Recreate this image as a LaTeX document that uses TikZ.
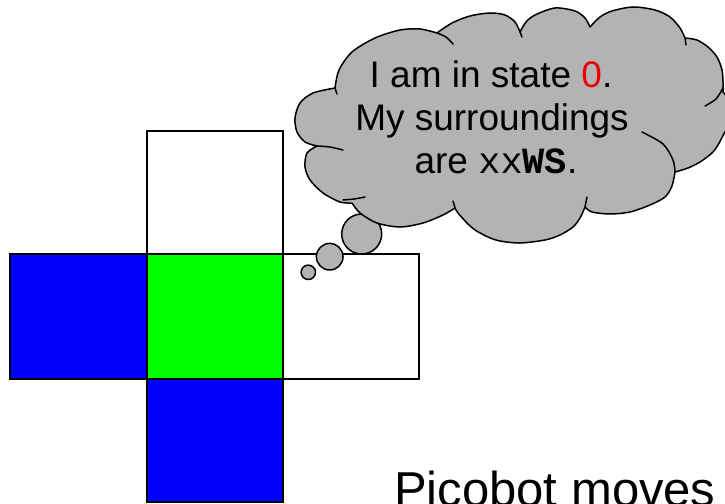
\documentclass[tikz,border=0pt]{standalone}
\usepackage{fontspec}
\setmainfont{Liberation Sans}
\setmonofont{Liberation Mono}
\definecolor{cloudgray}{RGB}{179,179,179}
\definecolor{pblue}{RGB}{0,0,255}
\definecolor{pgreen}{RGB}{0,255,0}
\definecolor{pred}{RGB}{235,0,0}
\tikzset{
  cell/.style={draw=black,line width=1.3pt},
  cloudline/.style={draw=black,line width=1.5pt,line join=round,line cap=round},
  bubble/.style={cloudline,fill=cloudgray},
  tailline/.style={draw=black,line width=1.5pt,line cap=round},
  txt/.style={inner sep=0pt,anchor=base,font=\fontsize{37}{44}\selectfont},
  bigtxt/.style={inner sep=0pt,anchor=base west,font=\fontsize{49}{58}\selectfont}
}
\begin{document}
\begin{tikzpicture}[x=1pt,y=-1pt]
\useasboundingbox (0,0) rectangle (725,503);
\fill[white] (0,0) rectangle (725,503);
\clip (0,0) rectangle (725,503);
% grid cells
\draw[cell,fill=white]  (147,131) rectangle (283,254);
\draw[cell,fill=pblue]  (10,254)  rectangle (147,379);
\draw[cell,fill=pgreen] (147,254) rectangle (283,379);
\draw[cell,fill=white]  (283,254) rectangle (419,379);
\draw[cell,fill=pblue]  (147,379) rectangle (283,502);
% thought bubbles
\draw[bubble] (361.7,234) circle[radius=20];
\draw[bubble] (329.7,256.7) circle[radius=13.3];
\draw[bubble] (308.3,272.3) circle[radius=7.2];
% cloud
\path[bubble]
  plot[smooth] coordinates {(335,88)(339,70)(352,52)(375,38)(400,30)(420,29)(437,33)}
  -- plot[smooth] coordinates {(437,33)(452,23)(470,16)(490,13)(505,15)(515,22)(520,32)}
  -- plot[smooth] coordinates {(520,32)(526,22)(535,15)(555,8)(575,11)(585,18)(590,27)}
  -- plot[smooth] coordinates {(590,27)(600,17)(612,11)(633,7)(655,10)(670,17)(680,28)(685,38)}
  -- plot[smooth] coordinates {(685,38)(697,40)(708,47)(717,57)(722,70)(723,82)(723,92)}
  -- plot[smooth] coordinates {(723,92)(729,100)(733,112)(731,124)(725,132)(718,145)(712,153)(700,162)(688,168)(675,172)}
  -- plot[smooth] coordinates {(675,172)(672,186)(665,197)(650,205)(630,212)(610,214)(592,212)(585,207)}
  -- plot[smooth] coordinates {(585,207)(580,218)(573,227)(560,235)(545,240)(520,243)(500,241)(488,237)(475,230)(467,223)(458,213)(455,208)}
  -- plot[smooth] coordinates {(455,208)(443,215)(423,223)(400,227)(377,223)(360,213)(352,203)}
  -- plot[smooth] coordinates {(352,203)(340,202)(323,193)(310,180)(305,167)(307,153)(317,146)}
  -- plot[smooth] coordinates {(317,146)(305,142)(297,132)(295,118)(300,103)(313,93)(335,88)}
  -- cycle;
% inner arcs of the cloud
\draw[tailline] plot[smooth] coordinates {(437,33)(446,37)(453,44)};
\draw[tailline] plot[smooth] coordinates {(520,32)(522,37)};
\draw[tailline] plot[smooth] coordinates {(685,38)(686,45)};
\draw[tailline] plot[smooth] coordinates {(723,88)(716,99)(705,106)};
\draw[tailline] plot[smooth] coordinates {(675,172)(673,160)(663,144)(642,132)};
\draw[tailline] plot[smooth] coordinates {(585,207)(587,197)};
\draw[tailline] plot[smooth] coordinates {(455,208)(453,201)};
\draw[tailline] plot[smooth] coordinates {(343,200)(354,199)(365,197)};
\draw[tailline] plot[smooth] coordinates {(317,146)(330,147)(343,150)};
\draw[tailline] plot[smooth] coordinates {(335,88)(337,94)};
% texts
\node[txt] (l1) at (491,88) {I am in state \textcolor{pred}{0}.};
\node[txt] (l2) at (492,130) {My surroundings};
\node[txt] (l3) at (496,173) {are \texttt{xx\textbf{WS}}.};
\node[bigtxt] (pm) at (394,506) {Picobot moves};
\end{tikzpicture}
\end{document}
